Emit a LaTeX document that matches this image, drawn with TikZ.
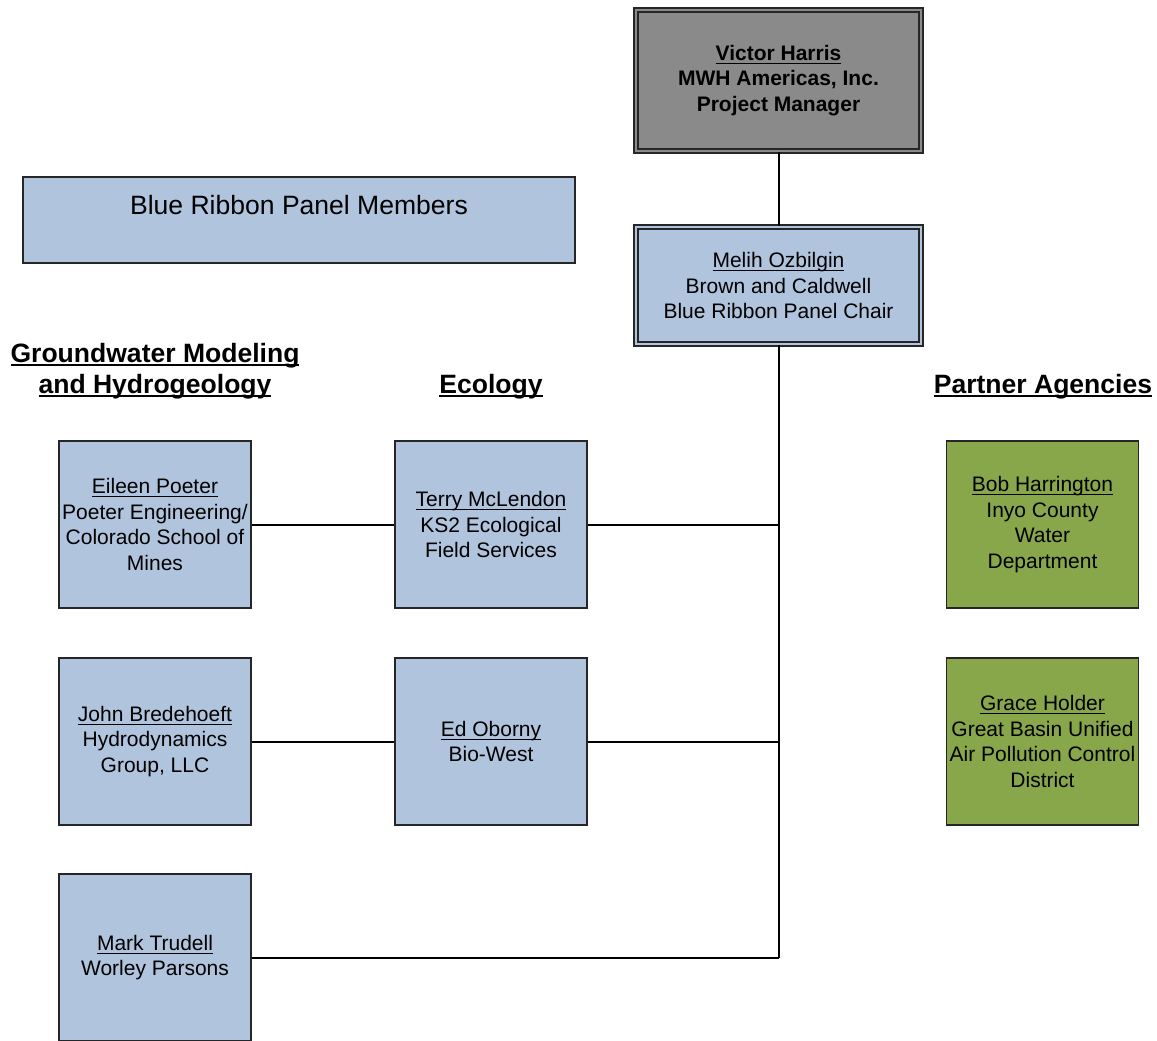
\documentclass[tikz,border=0pt]{standalone}
\usepackage{fontspec}
\setmainfont{Liberation Sans}
\usepackage{xcolor}

\definecolor{boxblue}{RGB}{177,196,221}
\definecolor{boxgreen}{RGB}{136,166,74}
\definecolor{boxgray}{RGB}{138,138,138}

\newlength\px
\setlength\px{0.75pt}
\newcommand{\undl}[2][0.8pt]{\leavevmode\setbox0\hbox{#2}\rlap{\rule[-2.4pt]{\wd0}{#1}}\box0}

\tikzset{
  member/.style={draw=black!85,line width=1.1pt,fill=boxblue,inner sep=0pt,
    minimum width=192\px,minimum height=167\px,align=center,
    font=\fontsize{15.75}{19.1}\selectfont},
  partner/.style={member,fill=boxgreen},
  lead/.style={draw=black!85,line width=1pt,double distance=2pt,inner sep=0pt,
    minimum width=285\px,align=center,font=\fontsize{15.75}{19.1}\selectfont},
  heading/.style={align=center,font=\fontsize{19.9}{23.3}\selectfont\bfseries},
  link/.style={line width=1.5pt,black}
}

\begin{document}
\begin{tikzpicture}[x=0.75pt,y=-0.75pt]
        \useasboundingbox (0,0) rectangle (1157,1040);
        \clip (0,0) rectangle (1157,1040);

        % Project manager and panel chair
        \node[lead,fill=boxgray,double=boxgray,minimum height=141\px,font=\fontsize{15.75}{19.1}\selectfont\bfseries]
          (victor) at (778.5,80.5) {\undl{Victor Harris}\\MWH Americas, Inc.\\Project Manager};
        \node[lead,fill=boxblue,double=boxblue,minimum height=117\px]
          (melih) at (778.5,285.5) {\undl[0.6pt]{Melih Ozbilgin}\\Brown and Caldwell\\Blue Ribbon Panel Chair};

        % Title box
        \node[member,minimum width=552\px,minimum height=86\px,font=\fontsize{19.9}{23}\selectfont]
          (title) at (299,220) {\raisebox{22pt}{Blue Ribbon Panel Members}};

        % Column headings
        \node[heading] (hgw) at (155,371.5) {\undl[1.4pt]{Groundwater Modeling}\\\undl[1.4pt]{and Hydrogeology}};
        \node[heading] (heco) at (491,387) {\undl[1.4pt]{Ecology}};
        \node[heading] (hpa) at (1043,387) {\undl[1.4pt]{Partner Agencies}};

        % Groundwater modeling and hydrogeology
        \node[member] (eileen) at (155,524.5) {\undl[0.6pt]{Eileen Poeter}\\Poeter Engineering/\\Colorado School of\\Mines};
        \node[member] (john) at (155,741.5) {\undl[0.6pt]{John Bredehoeft}\\Hydrodynamics\\Group, LLC};
        \node[member] (mark) at (155,957.5) {\undl[0.6pt]{Mark Trudell}\\Worley Parsons};

        % Ecology
        \node[member] (terry) at (491,524.5) {\undl[0.6pt]{Terry McLendon}\\KS2 Ecological\\Field Services};
        \node[member] (ed) at (491,741.5) {\undl[0.6pt]{Ed Oborny}\\Bio-West};

        % Partner agencies
        \node[partner] (bob) at (1042.5,524.5) {\undl[0.6pt]{Bob Harrington}\\Inyo County\\Water\\Department};
        \node[partner] (grace) at (1042.5,741.5) {\undl[0.6pt]{Grace Holder}\\Great Basin Unified\\Air Pollution Control\\District};

        % Connectors
        \coordinate (trunk) at (778.5,957.5);
        \draw[link] (victor.south) -- (melih.north);
        \draw[link] (melih.south) -- (trunk);
        \draw[link] (eileen.east) -- (terry.west);
        \draw[link] (terry.east) -- (terry.east -| trunk);
        \draw[link] (john.east) -- (ed.west);
        \draw[link] (ed.east) -- (ed.east -| trunk);
        \draw[link] (mark.east) -- (trunk);
    \end{tikzpicture}
\end{document}
